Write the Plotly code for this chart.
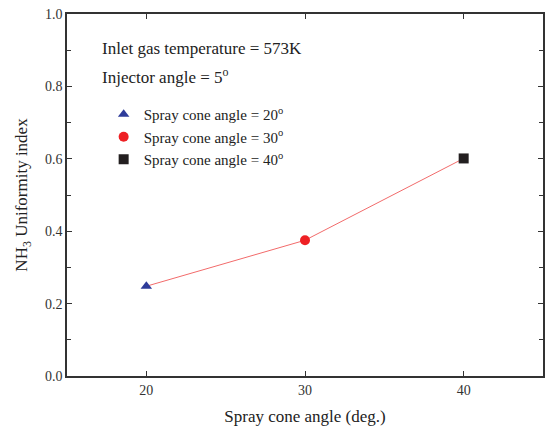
import plotly.graph_objects as go

angles = [20, 30, 40]
uniformity = [0.248, 0.375, 0.601]
labels = ["Spray cone angle = 20<sup>o</sup>", "Spray cone angle = 30<sup>o</sup>", "Spray cone angle = 40<sup>o</sup>"]
symbols = ["triangle-up", "circle", "square"]
colors = ["#2E3C9A", "#EE2024", "#231F20"]

FONT = "Liberation Serif, Times New Roman, serif"
fig = go.Figure()
fig.add_trace(go.Scatter(x=angles, y=uniformity, mode="lines",
                         line=dict(color="#F26B6B", width=1), showlegend=False, hoverinfo="skip"))
for a, u, lab, s, c in zip(angles, uniformity, labels, symbols, colors):
    fig.add_trace(go.Scatter(x=[a], y=[u], mode="markers", name=lab,
                             marker=dict(symbol=s, color=c, size=10, line=dict(width=0))))

axis_common = dict(showline=True, linecolor="#333333", linewidth=1.5, mirror="ticks",
                   ticks="inside", tickcolor="#333333", tickwidth=1.2, ticklen=5,
                   showgrid=False, zeroline=False,
                   tickfont=dict(family=FONT, size=14, color="#333333"))

fig.update_xaxes(range=[15, 45], tickvals=[20, 30, 40],
                 title=dict(text="Spray cone angle (deg.)", font=dict(family=FONT, size=17, color="#222222"), standoff=14),
                 **axis_common)
fig.update_yaxes(range=[0, 1.0], tickvals=[0, 0.2, 0.4, 0.6, 0.8, 1.0], ticktext=["0.0", "0.2", "0.4", "0.6", "0.8", "1.0"],
                 minor=dict(ticks="inside", tickvals=[0.1, 0.3, 0.5, 0.7, 0.9], ticklen=4, tickcolor="#333333", tickwidth=1.2),
                 title=dict(text="NH<sub>3</sub> Uniformity index", font=dict(family=FONT, size=17, color="#222222"), standoff=13),
                 **axis_common)

fig.add_annotation(xref="paper", yref="paper", x=0.07, y=0.905, xanchor="left", yanchor="middle",
                   text="Inlet gas temperature = 573K", showarrow=False,
                   font=dict(family=FONT, size=17, color="#222222"))
fig.add_annotation(xref="paper", yref="paper", x=0.07, y=0.83, xanchor="left", yanchor="middle",
                   text="Injector angle = 5<sup>o</sup>", showarrow=False,
                   font=dict(family=FONT, size=17, color="#222222"))

fig.update_layout(width=549, height=431, margin=dict(l=67, r=4, t=14, b=55),
                  paper_bgcolor="white", plot_bgcolor="white",
                  legend=dict(x=0.077, y=0.768, xanchor="left", yanchor="top", bgcolor="rgba(0,0,0,0)",
                              font=dict(family=FONT, size=15, color="#222222"), itemwidth=30),
                  font=dict(family=FONT))
fig.write_html("out.html")
